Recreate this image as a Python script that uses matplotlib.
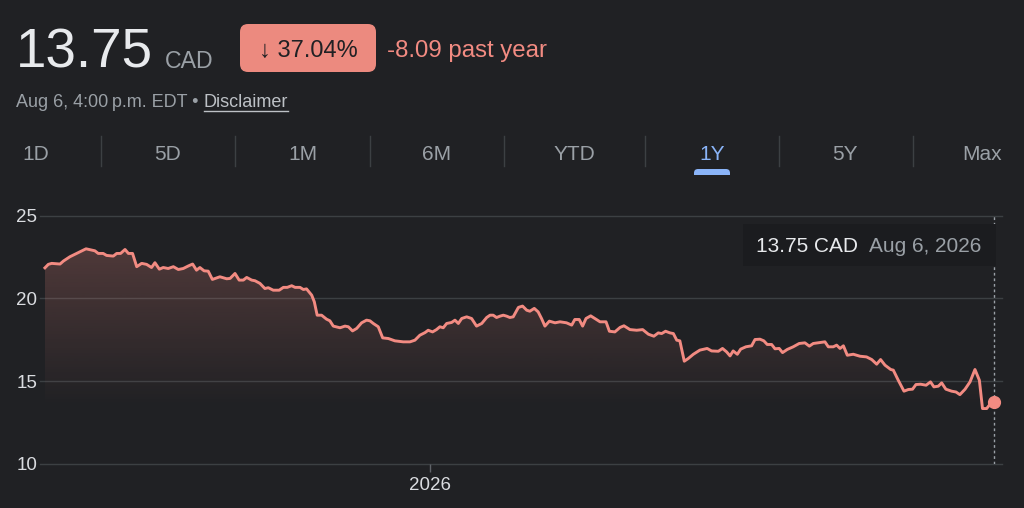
import matplotlib
matplotlib.use('Agg')
import matplotlib.pyplot as plt
import matplotlib.dates as mdates
from matplotlib.patches import FancyBboxPatch, Rectangle
from matplotlib.transforms import IdentityTransform
from matplotlib.colors import to_rgb
from matplotlib.lines import Line2D
import numpy as np
from datetime import datetime, timedelta

# ---------------- data ----------------
START = datetime(2025, 8, 6)
days = [0, 1.3, 2.6, 5.8, 7.1, 9.6, 12.2, 15.8, 19.2, 20.5,
        22.4, 23.7, 26.3, 27.6, 29.1, 30.8, 32.1, 33.7, 35.3, 37.2,
        39.1, 41.0, 42.3, 44.0, 45.5, 47.4, 49.4, 51.3, 53.2, 55.1,
        56.8, 58.3, 59.6, 61.2, 62.8, 64.4, 67.3, 69.9, 71.2, 73.1,
        74.7, 76.3, 77.6, 79.5, 80.8, 82.7, 84.6, 85.9, 87.8, 90.1,
        91.7, 93.2, 94.9, 96.2, 98.1, 99.4, 100.6, 102.6, 103.6, 104.7,
        106.4, 108.3, 109.6, 110.9, 113.5, 115.4, 116.7, 118.3, 119.9, 121.8,
        123.7, 125.0, 126.3, 128.2, 129.9, 132.1, 134.6, 137.8, 140.4, 142.3,
        144.2, 146.2, 147.4, 149.1, 150.6, 151.9, 153.2, 154.5, 156.4, 157.7,
        159.0, 160.3, 162.2, 164.1, 166.0, 168.0, 169.9, 171.2, 172.4, 173.7,
        175.0,
        176.3, 177.6, 178.8, 180.1, 182.1, 183.7, 185.3, 186.5, 188.2, 189.7,
        191.0, 192.3, 194.0, 196.2, 198.1, 200.6, 202.6, 203.8, 205.5, 206.8,
        208.1, 209.9, 211.5, 213.5, 215.8, 217.1, 219.2, 221.2, 222.7, 225.0,
        227.6, 229.9, 232.1, 234.2, 235.9, 237.2, 238.7, 240.4, 241.7, 243.0,
        244.2, 245.9, 247.4, 249.4, 251.9, 254.7, 256.4, 259.0, 260.6, 262.2,
        263.5, 264.7, 266.3, 267.6, 269.6, 271.8, 273.1, 275.0, 276.5, 277.8,
        279.5, 280.8, 282.4, 283.7, 285.5, 287.8, 290.1, 292.3, 294.0, 295.5,
        297.4, 300.0, 301.3, 303.2, 304.5, 305.8, 307.1, 308.6, 310.9, 313.5,
        316.0, 318.0, 319.9, 321.4, 323.1, 325.3, 326.3, 328.2, 330.4, 332.1,
        333.7, 335.0, 336.8, 338.9, 340.6, 341.9, 343.6, 344.9, 346.5, 348.7,
        350.4, 351.9, 353.9, 355.8, 357.7, 359.4, 360.6, 362.2, 363.5, 365.0]

prices = [21.85, 22.06, 22.12, 22.08, 22.26, 22.52, 22.72, 23.0, 22.88, 22.72,
          22.72, 22.6, 22.56, 22.72, 22.72, 22.96, 22.72, 22.72, 21.92, 22.12,
          22.06, 21.87, 22.16, 21.77, 21.87, 21.81, 21.92, 21.75, 21.81, 21.96,
          22.08, 21.71, 21.87, 21.67, 21.65, 21.15, 21.31, 21.19, 21.21, 21.51,
          21.11, 21.11, 21.27, 21.11, 21.07, 20.91, 20.6, 20.65, 20.5, 20.5,
          20.67, 20.67, 20.77, 20.67, 20.67, 20.54, 20.58, 20.2, 19.8, 18.99,
          18.99, 18.75, 18.65, 18.33, 18.23, 18.33, 18.29, 18.04, 18.19, 18.53,
          18.69, 18.65, 18.49, 18.29, 17.62, 17.58, 17.44, 17.38, 17.38, 17.48,
          17.78, 17.94, 18.08, 17.98, 18.12, 18.29, 18.23, 18.49, 18.55, 18.69,
          18.49, 18.79, 18.89, 18.79, 18.33, 18.49, 18.85, 18.99, 18.99, 18.85,
          18.93,
          18.99, 18.93, 18.85, 18.89, 19.46, 19.54, 19.29, 19.23, 19.4, 19.19,
          18.79, 18.33, 18.63, 18.53, 18.59, 18.53, 18.39, 18.73, 18.73, 18.33,
          18.79, 18.95, 18.79, 18.59, 18.59, 18.02, 17.98, 18.25, 18.35, 18.12,
          18.08, 18.12, 17.84, 17.72, 17.92, 17.88, 18.02, 17.92, 17.88, 17.48,
          17.44, 16.21, 16.37, 16.63, 16.88, 16.98, 16.83, 16.81, 16.98, 16.77,
          16.53, 16.83, 16.63, 16.94, 17.08, 17.14, 17.52, 17.54, 17.44, 17.22,
          17.22, 16.96, 16.98, 16.73, 16.92, 17.08, 17.28, 17.32, 17.12, 17.28,
          17.32, 17.38, 17.08, 17.08, 17.18, 16.98, 17.14, 16.57, 16.63, 16.51,
          16.47, 16.31, 16.03, 16.31, 15.97, 15.71, 15.67, 15.06, 14.40, 14.50,
          14.52, 14.80, 14.82, 14.76, 14.96, 14.66, 14.70, 14.90, 14.52, 14.40,
          14.35, 14.19, 14.52, 14.96, 15.71, 15.06, 13.35, 13.35, 13.61, 13.75]

y_ticks = [10, 15, 20, 25]
x_tick_dates = [datetime(2026, 1, 1)]
x_tick_labels = ['2026']
ranges = ['1D', '5D', '1M', '6M', 'YTD', '1Y', '5Y', 'Max']
selected_range = '1Y'
price_text = '13.75'
currency = 'CAD'
change_pct = '\u2193 37.04%'
change_abs = '-8.09 past year'
timestamp = 'Aug 6, 4:00\u2009p.m. EDT \u2022 '
disclaimer = 'Disclaimer'
tooltip_price = '13.75 CAD'
tooltip_date = 'Aug 6, 2026'

# ---------------- style ----------------
BG = '#202124'
LINE = '#f28b82'
BADGE = '#ec8a7f'
GRID = '#3c4043'
GREY = '#9aa0a6'
LIGHT = '#e8eaed'
TICKC = '#dadce0'
BLUE = '#8ab4f8'
FAM = ['Liberation Sans', 'DejaVu Sans']
plt.rcParams['font.family'] = FAM

W, H = 1024, 508
fig = plt.figure(figsize=(W / 100, H / 100), dpi=100, facecolor=BG)


def fx(x):
    return x / W


def fy(y):
    return 1 - y / H


# ---------------- chart ----------------
ax = fig.add_axes([fx(40), fy(464), fx(1002) - fx(40), fy(215.7) - fy(464)])
ax.set_facecolor(BG)
dates = [START + timedelta(days=d) for d in days]
xn = mdates.date2num(dates)

for y in y_ticks:
    ax.axhline(y, color=GRID, lw=1, clip_on=False, zorder=0)

base = 13.4
poly = ax.fill_between(xn, prices, base, facecolor='none', edgecolor='none')
grad = np.zeros((256, 1, 4))
grad[..., :3] = to_rgb(LINE)
grad[:, 0, 3] = np.linspace(0.0, 0.23, 256)
im = ax.imshow(grad, extent=[xn[0], xn[-1], base, 23.1], origin='lower',
               aspect='auto', zorder=1, interpolation='bilinear')
im.set_clip_path(poly.get_paths()[0], transform=ax.transData)

ax.plot(xn, prices, color=LINE, lw=2.1, solid_joinstyle='round', zorder=3)
ax.axvline(xn[-1], color=GREY, lw=1, ls=(0, (2, 2)), zorder=2)
ax.plot(xn[-1], prices[-1], 'o', ms=8.5, color=LINE, mec=LINE, zorder=4,
        clip_on=False)

ax.set_xlim(mdates.date2num(START - timedelta(days=1.9)),
            mdates.date2num(START + timedelta(days=368.1)))
ax.set_ylim(10, 25)
ax.set_yticks(y_ticks)
ax.set_yticklabels([str(v) for v in y_ticks])
ax.set_xticks(mdates.date2num(x_tick_dates))
ax.set_xticklabels(x_tick_labels)
ax.tick_params(axis='y', length=0, pad=2, labelsize=13.5, labelcolor=TICKC)
ax.tick_params(axis='x', length=6, width=1, color='#5f6368', pad=3,
               labelsize=13.5, labelcolor=TICKC)
for s in ax.spines.values():
    s.set_visible(False)

# ---------------- header ----------------
fig.text(fx(16), fy(68), price_text, fontsize=39.5, color=LIGHT, va='baseline')
fig.text(fx(165), fy(68), currency, fontsize=16.7, color=GREY, va='baseline')

badge = FancyBboxPatch((240, H - 72), 136, 48,
                       boxstyle='round,pad=0,rounding_size=8',
                       transform=IdentityTransform(), facecolor=BADGE,
                       edgecolor='none')
fig.add_artist(badge)
fig.text(fx(308), fy(57), change_pct, fontsize=17, color='#202124',
         va='baseline', ha='center')
fig.text(fx(387), fy(57), change_abs, fontsize=17.3, color=LINE, va='baseline')

fig.canvas.draw()
renderer = fig.canvas.get_renderer()
tt = fig.text(fx(16), fy(107), timestamp, fontsize=13, color=GREY,
              va='baseline')
bt = tt.get_window_extent(renderer)
td = fig.text(bt.x1 / W, fy(107), disclaimer, fontsize=13, color='#bdc1c6',
              va='baseline')
bb = td.get_window_extent(renderer)
fig.add_artist(Line2D([bb.x0 / W, bb.x1 / W], [fy(110.5), fy(110.5)],
                      transform=fig.transFigure, color='#bdc1c6', lw=1))

# ---------------- range tabs ----------------
tab_x = [22, 168, 303, 437, 574, 712, 845, 1002]
tab_ha = ['left', 'center', 'center', 'center', 'center', 'center', 'center', 'right']
for lab, x, ha in zip(ranges, tab_x, tab_ha):
    fig.text(fx(x), fy(160), lab, fontsize=15, ha=ha, va='baseline',
             color=BLUE if lab == selected_range else GREY)
for x in [101, 235, 370, 504, 645, 779, 913]:
    fig.add_artist(Line2D([fx(x), fx(x)], [fy(136), fy(166)],
                          transform=fig.transFigure, color=GRID, lw=1))
sel_x = tab_x[ranges.index(selected_range)]
ul = FancyBboxPatch((sel_x - 18, H - 181), 36, 12,
                    boxstyle='round,pad=0,rounding_size=4',
                    transform=IdentityTransform(), facecolor=BLUE,
                    edgecolor='none')
fig.add_artist(ul)
fig.add_artist(Rectangle((sel_x - 20, H - 183), 40, 8,
                         transform=IdentityTransform(), facecolor=BG,
                         edgecolor='none', zorder=5))

# ---------------- tooltip ----------------
tip = Rectangle((743, H - 266), 253, 42, transform=IdentityTransform(),
                facecolor='#1b1c1f', edgecolor='none', zorder=5)
fig.add_artist(tip)
fig.text(fx(756), fy(252), tooltip_price, fontsize=15, color=LIGHT,
         va='baseline', zorder=6)
fig.text(fx(869), fy(252), tooltip_date, fontsize=15, color=GREY,
         va='baseline', zorder=6)

fig.savefig('out.png', dpi=100, facecolor=BG)
